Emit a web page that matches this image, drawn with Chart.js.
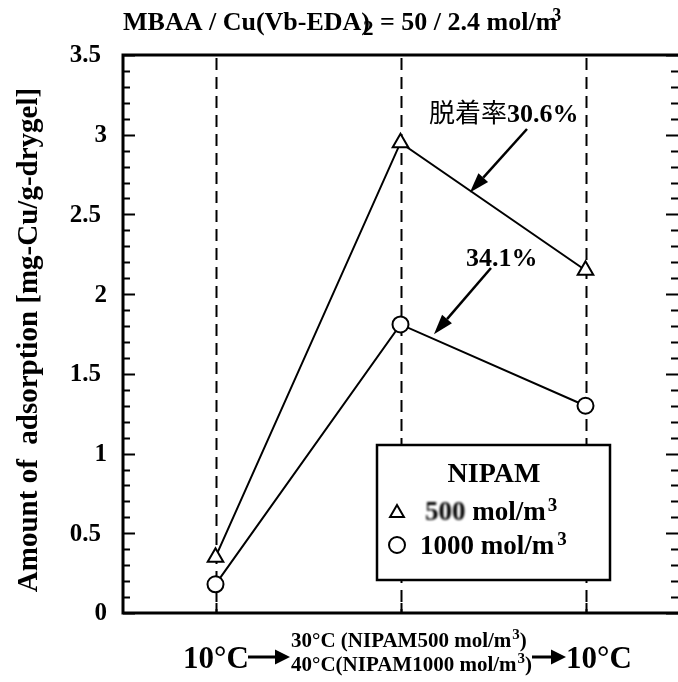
<!DOCTYPE html>
<html>
<head>
<meta charset="utf-8">
<script src="https://cdn.jsdelivr.net/npm/chart.js@4"></script>
<style>
  html, body { margin: 0; padding: 0; background: #fff; }
  canvas { display: block; }
</style>
</head>
<body>
<canvas id="chart" width="678" height="682"></canvas>
<script>
// temperature steps and Cu adsorption for the two NIPAM concentrations
const categories = ['10°C', '30°C / 40°C', '10°C'];
const nipam500 = [0.35, 2.95, 2.15];
const nipam1000 = [0.18, 1.81, 1.30];
const yTicks = [0, 0.5, 1, 1.5, 2, 2.5, 3, 3.5];
const yMinorStep = 0.1;
// desorption rate on the warm -> 10°C step
const desorption500 = '30.6%';
const desorption1000 = '34.1%';

const SERIF = '"Liberation Serif", "DejaVu Serif", serif';
const CJK = '"Noto Sans CJK JP", "Noto Sans CJK SC", sans-serif';

function font(size, bold = true, family = SERIF) {
  return (bold ? 'bold ' : '') + size + 'px ' + family;
}

// text pieces drawn one after another (sub/superscripts, blur)
function drawRun(ctx, x, y, parts) {
  parts.forEach(p => {
    ctx.save();
    ctx.font = font(p.size, p.bold !== false, p.family || SERIF);
    if (p.blur) ctx.filter = 'blur(' + p.blur + 'px)';
    x += p.kern || 0;
    ctx.fillText(p.t, x, y + (p.dy || 0));
    x += ctx.measureText(p.t).width;
    ctx.restore();
  });
  return x;
}

function arrow(ctx, x1, y1, x2, y2, head, width, lw) {
  const a = Math.atan2(y2 - y1, x2 - x1);
  const bx = x2 - head * Math.cos(a), by = y2 - head * Math.sin(a);
  ctx.save();
  ctx.lineWidth = lw;
  ctx.beginPath(); ctx.moveTo(x1, y1); ctx.lineTo(bx, by); ctx.stroke();
  ctx.beginPath();
  ctx.moveTo(x2, y2);
  ctx.lineTo(bx + width / 2 * Math.sin(a), by - width / 2 * Math.cos(a));
  ctx.lineTo(bx - width / 2 * Math.sin(a), by + width / 2 * Math.cos(a));
  ctx.closePath(); ctx.fill();
  ctx.restore();
}

// point on the line between step 2 and step 3, t in 0..1
function onSegment(chart, values, t) {
  const sx = chart.scales.x, sy = chart.scales.y;
  return {
    x: sx.getPixelForValue(1 + t),
    y: sy.getPixelForValue(values[1] + t * (values[2] - values[1]))
  };
}

const framePlugin = {
  id: 'frame',
  beforeDatasetsDraw(chart) {
    const { ctx, chartArea: a, scales: { x, y } } = chart;
    ctx.save();
    ctx.strokeStyle = '#000';

    // dashed lines at each temperature step
    ctx.lineWidth = 2;
    ctx.setLineDash([12, 7]);
    categories.forEach((c, i) => {
      const px = Math.round(x.getPixelForValue(i)) + 0.5;
      ctx.beginPath(); ctx.moveTo(px, a.top + 3); ctx.lineTo(px, a.bottom); ctx.stroke();
    });
    ctx.setLineDash([]);

    // axis lines
    ctx.lineWidth = 3;
    ctx.beginPath();
    ctx.moveTo(a.right, a.top); ctx.lineTo(a.left, a.top);
    ctx.lineTo(a.left, a.bottom); ctx.lineTo(a.right, a.bottom);
    ctx.stroke();

    // inward ticks, left and right
    ctx.lineWidth = 2;
    for (let v = 0; v <= 3.5 + 1e-9; v += yMinorStep) {
      const py = Math.round(y.getPixelForValue(v)) + 0.5;
      const major = yTicks.some(t => Math.abs(t - v) < 1e-6);
      const len = major ? 12 : 7;
      ctx.beginPath();
      ctx.moveTo(a.left, py); ctx.lineTo(a.left + len, py);
      ctx.moveTo(a.right, py); ctx.lineTo(a.right - len, py);
      ctx.stroke();
    }
    // bottom ticks at the steps
    categories.forEach((c, i) => {
      const px = Math.round(x.getPixelForValue(i)) + 0.5;
      ctx.beginPath(); ctx.moveTo(px, a.bottom); ctx.lineTo(px, a.bottom - 10); ctx.stroke();
    });
    ctx.restore();
  },
  afterDatasetsDraw(chart) {
    const { ctx, chartArea: a, scales: { x, y } } = chart;
    ctx.save();
    ctx.fillStyle = '#000';
    ctx.strokeStyle = '#000';

    // y tick labels
    ctx.font = font(25);
    ctx.textAlign = 'right';
    ctx.textBaseline = 'middle';
    yTicks.forEach(t => {
      const s = String(t);
      ctx.fillText(s, s.includes('.') ? 101 : 107, y.getPixelForValue(t) + 1);
    });

    // y axis title
    ctx.save();
    ctx.translate(37, 340);
    ctx.rotate(-Math.PI / 2);
    ctx.textAlign = 'center';
    ctx.textBaseline = 'alphabetic';
    ctx.font = font(29);
    ctx.fillText('Amount of  adsorption [mg-Cu/g-drygel]', 0, 0);
    ctx.restore();

    ctx.textAlign = 'left';
    ctx.textBaseline = 'alphabetic';

    // title
    drawRun(ctx, 123, 30, [
      { t: 'MBAA / Cu(Vb-EDA)', size: 26 },
      { t: '2', size: 21, dy: 5, kern: -7 },
      { t: ' = 50 / 2.4 mol/m', size: 26 },
      { t: '3', size: 18, dy: -9, kern: -5 }
    ]);

    // desorption annotations
    drawRun(ctx, 429, 122, [
      { t: '脱着率', size: 26, bold: false, family: CJK },
      { t: desorption500, size: 26 }
    ]);
    const tip1 = onSegment(chart, nipam500, 0.375);
    arrow(ctx, 527, 129, tip1.x, tip1.y + 2, 20, 13, 2.5);

    drawRun(ctx, 466, 266, [{ t: desorption1000, size: 26 }]);
    const tip2 = onSegment(chart, nipam1000, 0.17);
    arrow(ctx, 491, 268, tip2.x + 2, tip2.y - 4, 20, 13, 2.5);

    // legend box
    ctx.fillStyle = '#fff';
    ctx.fillRect(377, 445, 233, 135);
    ctx.lineWidth = 2.5;
    ctx.strokeRect(377, 445, 233, 135);
    ctx.fillStyle = '#000';
    ctx.textAlign = 'center';
    ctx.font = font(28);
    ctx.fillText('NIPAM', 494, 482);
    ctx.textAlign = 'left';

    const sets = chart.data.datasets;
    const rows = [
      { y: 513, ty: 520, tx: 425, parts: [
        { t: '500', size: 27, blur: 1.2 },
        { t: ' mol/m', size: 27 },
        { t: '3', size: 19, dy: -9, kern: 2 }
      ] },
      { y: 545, ty: 554, tx: 420, parts: [
        { t: '1000 mol/m', size: 27 },
        { t: '3', size: 19, dy: -9, kern: 3 }
      ] }
    ];
    rows.forEach((r, i) => {
      ctx.save();
      ctx.fillStyle = '#fff';
      ctx.strokeStyle = '#000';
      ctx.lineWidth = 2;
      Chart.helpers.drawPoint(ctx, {
        pointStyle: sets[i].pointStyle, radius: 8, borderWidth: 2, rotation: 0
      }, 397, r.y);
      ctx.restore();
      drawRun(ctx, r.tx, r.ty, r.parts);
    });

    // temperature sequence under the x axis
    drawRun(ctx, 183, 668, [{ t: '10°C', size: 31 }]);
    arrow(ctx, 248, 657, 290, 657, 15, 15, 3);
    drawRun(ctx, 291, 647, [
      { t: '30°C (NIPAM500 mol/m', size: 21 },
      { t: '3', size: 15, dy: -8, kern: 1 },
      { t: ')', size: 21 }
    ]);
    drawRun(ctx, 291, 671, [
      { t: '40°C(NIPAM1000 mol/m', size: 21 },
      { t: '3', size: 15, dy: -8, kern: 1 },
      { t: ')', size: 21 }
    ]);
    arrow(ctx, 532, 657, 566, 657, 15, 15, 3);
    drawRun(ctx, 566, 668, [{ t: '10°C', size: 31 }]);

    ctx.restore();
  }
};

new Chart(document.getElementById('chart'), {
  type: 'line',
  data: {
    labels: categories,
    datasets: [
      {
        label: '500 mol/m³',
        data: nipam500,
        borderColor: '#000',
        borderWidth: 2,
        pointStyle: 'triangle',
        pointRadius: 9,
        pointBorderWidth: 2,
        pointBackgroundColor: '#fff',
        pointBorderColor: '#000',
        tension: 0,
        clip: false
      },
      {
        label: '1000 mol/m³',
        data: nipam1000,
        borderColor: '#000',
        borderWidth: 2,
        pointStyle: 'circle',
        pointRadius: 8,
        pointBorderWidth: 2,
        pointBackgroundColor: '#fff',
        pointBorderColor: '#000',
        tension: 0,
        clip: false
      }
    ]
  },
  options: {
    responsive: false,
    animation: false,
    devicePixelRatio: 1,
    layout: { autoPadding: false, padding: { left: 123, top: 55, right: 0, bottom: 69 } },
    scales: {
      x: { type: 'category', offset: true, display: false },
      y: { min: 0, max: 3.5, display: false }
    },
    plugins: {
      legend: { display: false },
      tooltip: { enabled: false }
    }
  },
  plugins: [framePlugin]
});
</script>
</body>
</html>
